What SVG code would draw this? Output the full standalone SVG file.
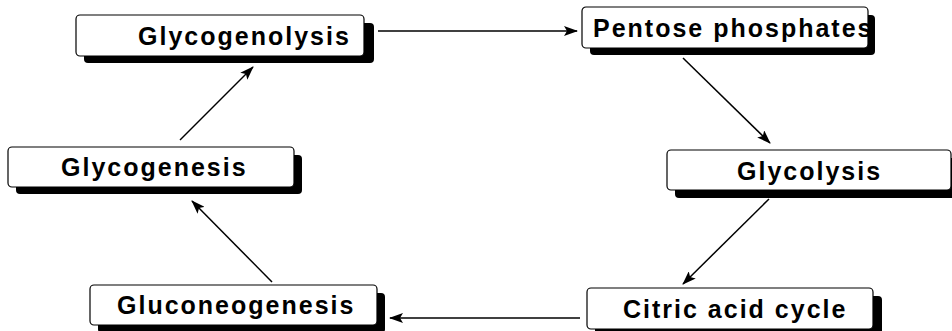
<svg xmlns="http://www.w3.org/2000/svg" width="952" height="331" viewBox="0 0 952 331">
<style>
.box{fill:#fff;stroke:#000;stroke-width:1.2}
.sh{fill:#000}
.t{font-family:"Liberation Sans",Arial,sans-serif;font-weight:bold;font-size:25px;letter-spacing:2px;fill:#000}
.c{stroke:#000;stroke-width:1.5;fill:none;marker-end:url(#ah)}
</style>
<defs>
<marker id="ah" viewBox="0 0 14 10" refX="13" refY="5" markerWidth="14" markerHeight="10" markerUnits="userSpaceOnUse" orient="auto">
<path d="M0,0 L14,5 L0,10 L3,5 Z" fill="#000"/>
</marker>
</defs>
<g id="glycogenolysis">
<rect class="sh" x="84" y="23" width="290" height="40" rx="4"/>
<rect class="box" x="76" y="15" width="288" height="41" rx="4"/>
<text class="t" x="138" y="45">Glycogenolysis</text>
</g>
<g id="pentose">
<rect class="sh" x="590" y="15" width="285" height="40" rx="4"/>
<rect class="box" x="582" y="7" width="286" height="41" rx="4"/>
<text class="t" x="593" y="37">Pentose phosphates</text>
</g>
<g id="glycogenesis">
<rect class="sh" x="16" y="155" width="286" height="39" rx="4"/>
<rect class="box" x="8" y="147" width="286" height="40" rx="4"/>
<text class="t" x="61" y="176">Glycogenesis</text>
</g>
<g id="glycolysis">
<rect class="sh" x="675" y="158" width="290" height="40" rx="4"/>
<rect class="box" x="667" y="150" width="284" height="40" rx="4"/>
<text class="t" x="737" y="180">Glycolysis</text>
</g>
<g id="gluconeogenesis">
<rect class="sh" x="98" y="293" width="287" height="40" rx="4"/>
<rect class="box" x="90" y="285" width="287" height="40" rx="4"/>
<text class="t" x="117" y="314">Gluconeogenesis</text>
</g>
<g id="citric">
<rect class="sh" x="595" y="296" width="287" height="40" rx="4"/>
<rect class="box" x="587" y="288" width="286" height="41" rx="4"/>
<text class="t" x="623" y="318">Citric acid cycle</text>
</g>
<g id="connectors">
<line class="c" x1="378" y1="31" x2="577" y2="31"/>
<line class="c" x1="683" y1="58" x2="770" y2="143"/>
<line class="c" x1="769" y1="199" x2="683" y2="284"/>
<line class="c" x1="580" y1="318" x2="390" y2="318"/>
<line class="c" x1="272" y1="282" x2="192" y2="201"/>
<line class="c" x1="180" y1="140" x2="253" y2="67"/>
</g>
</svg>
